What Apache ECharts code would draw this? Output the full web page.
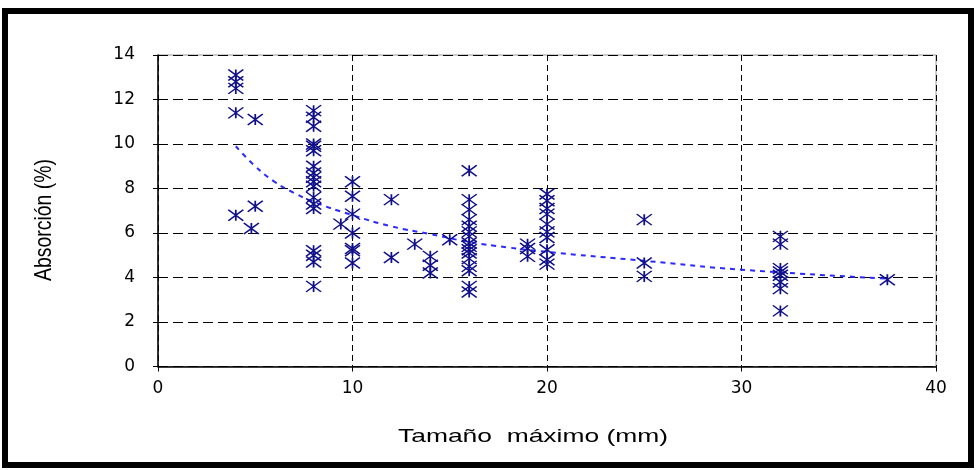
<!DOCTYPE html>
<html>
<head>
<meta charset="utf-8">
<script src="https://cdn.jsdelivr.net/npm/echarts@6/dist/echarts.min.js"></script>
<style>html,body{margin:0;padding:0;background:#fff;}#c{width:976px;height:470px;}</style>
</head>
<body>
<div id="c"></div>
<script>
// Observed points (Tamaño máximo mm, Absorción %)
const pointsX = [
  4,4,4,4,4,
  5,5,4.8,
  8,8,8,8,8,8,8,8,8,8,8,8,8,8,8,8,8,8,
  9.4,
  10,10,10,10,10,10,10,
  12,12,13.2,
  14,14,14,15,
  16,16,16,16,16,16,16,16,16,16,16,16,16,16,16,16,
  19,19,19,
  20,20,20,20,20,20,20,20,20,20,
  25,25,25,
  32,32,32,32,32,32,32,32,
  37.5
];
const pointsY = [
  13.1,12.8,12.5,11.4,6.8,
  11.1,7.2,6.2,
  11.5,11.2,10.8,10.0,9.9,9.7,9.0,8.7,8.5,8.3,8.1,7.6,7.3,7.1,5.2,5.0,4.7,3.6,
  6.4,
  8.3,7.65,6.85,6.0,5.3,5.2,4.65,
  7.5,4.9,5.5,
  4.95,4.55,4.2,5.7,
  8.8,7.5,7.05,6.6,6.3,6.05,5.85,5.55,5.4,5.25,5.1,4.85,4.5,4.3,3.6,3.35,
  5.5,5.3,4.95,
  7.75,7.45,7.1,6.85,6.4,6.05,5.8,5.25,4.8,4.6,
  6.6,4.65,4.05,
  5.85,5.5,4.4,4.25,4.1,3.8,3.5,2.5,
  3.9
];
// Trend line
const trendX = [4,5,6,7,8,10,12,14,16,18,20,25,30,37.5];
const trendY = [9.9,9.0,8.3,7.8,7.4,6.8,6.3,5.95,5.6,5.35,5.15,4.75,4.35,3.95];
const xTicks = [0,10,20,30,40];
const yTicks = [0,2,4,6,8,10,12,14];
const xTitle = 'Tamaño  máximo (mm)';
const yTitle = 'Absorción (%)';

const chart = echarts.init(document.getElementById('c'), null, {renderer:'canvas'});
const scatterData = pointsX.map((x,i)=>[x, pointsY[i]]);
const trendData = trendX.map((x,i)=>[x, trendY[i]]);
const tickFont = {color:'#000', fontFamily:'DejaVu Sans', fontSize:17};
chart.setOption({
  animation:false,
  backgroundColor:'#fff',
  grid:{left:158, right:40, top:55, bottom:103.5, show:true, borderColor:'#999', borderWidth:1, backgroundColor:'transparent'},
  xAxis:{type:'value', min:xTicks[0], max:xTicks[xTicks.length-1], interval:10,
    axisLine:{onZero:false, lineStyle:{color:'#000', width:1.5}},
    axisTick:{show:true, length:5, lineStyle:{color:'#000'}},
    axisLabel:Object.assign({margin:14}, tickFont),
    splitLine:{show:true, lineStyle:{color:'#000', type:[6,4], width:1}}},
  yAxis:{type:'value', min:yTicks[0], max:yTicks[yTicks.length-1], interval:2,
    axisLine:{show:true, onZero:false, lineStyle:{color:'#000', width:1.5}},
    axisTick:{show:true, length:5, lineStyle:{color:'#000'}},
    axisLabel:Object.assign({margin:23}, tickFont),
    splitLine:{show:true, lineStyle:{color:'#000', type:[10,5], width:1}}},
  series:[
    {type:'line', data:trendData, smooth:true, symbol:'none', silent:true, z:1,
     lineStyle:{color:'#2a2aff', width:2, type:[5,5]}},
    {type:'scatter', data:scatterData, z:3,
     symbol:'path://M0,0L14,10M14,0L0,10M7,0L7,10', symbolSize:[15,11],
     itemStyle:{color:'transparent', borderColor:'#10108a', borderWidth:1.5, opacity:1}}
  ],
  graphic:[
    {type:'rect', shape:{x:5, y:11, width:966, height:454}, style:{fill:'none', stroke:'#000', lineWidth:6}, z:100},
    {type:'text', x:533, y:437, scaleX:1.39, scaleY:1,
     style:{text:xTitle, font:'19px "Liberation Sans"', fill:'#000', textAlign:'center', textVerticalAlign:'middle'}},
    {type:'text', x:45, y:220, rotation:Math.PI/2, scaleX:1.08, scaleY:1.3,
     style:{text:yTitle, font:'18px "Liberation Sans"', fill:'#000', textAlign:'center', textVerticalAlign:'middle'}}
  ]
});
</script>
</body>
</html>
